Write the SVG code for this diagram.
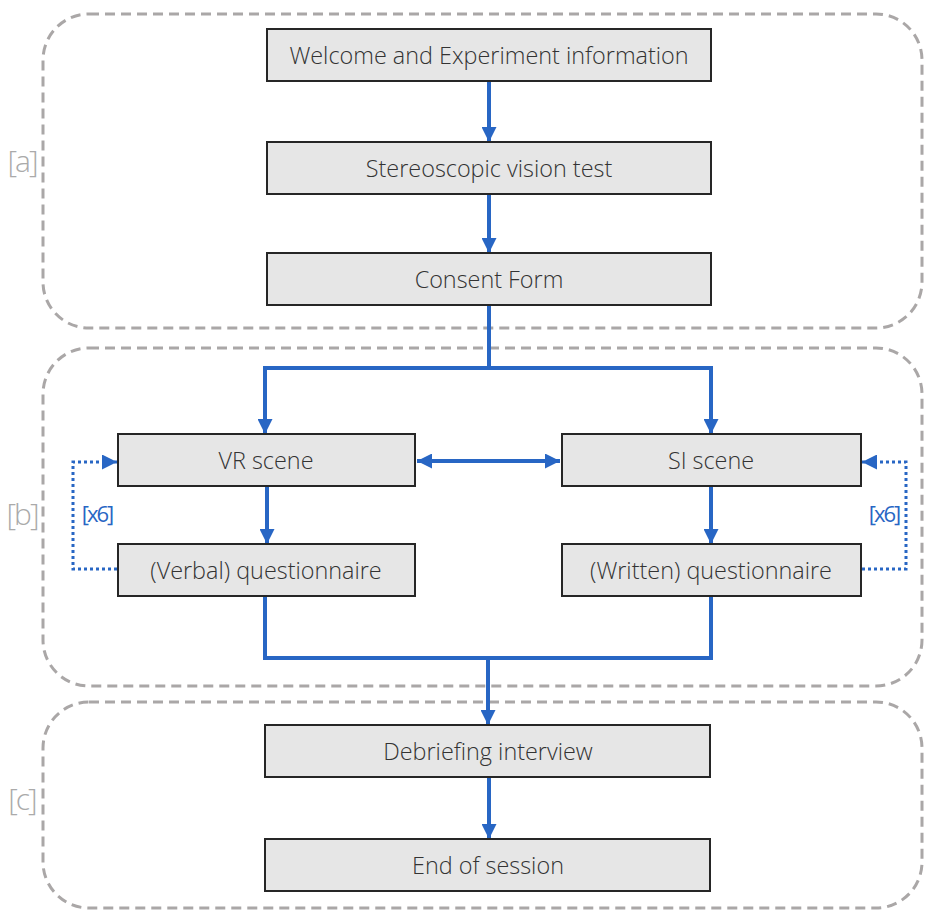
<svg xmlns="http://www.w3.org/2000/svg" width="925" height="919" viewBox="0 0 925 919">
<style>
.box{fill:#e6e6e6;stroke:#262626;stroke-width:2}
.t{font-family:"Open Sans","Noto Sans",sans-serif;font-size:23.4px;fill:#333;text-anchor:middle;dominant-baseline:central;font-weight:300}
.reg{fill:none;stroke:#aaa7a7;stroke-width:3;stroke-dasharray:10 6}
.lab{font-family:"Open Sans","Noto Sans",sans-serif;font-size:30px;fill:#aaa;text-anchor:middle;dominant-baseline:central;font-weight:300;letter-spacing:-2px}
.c{fill:none;stroke:#2866c4;stroke-width:4}
.d{fill:none;stroke:#2866c4;stroke-width:3;stroke-dasharray:3 3}
.x6{font-family:"Open Sans","Noto Sans",sans-serif;font-size:22px;fill:#2866c4;text-anchor:middle;dominant-baseline:central;letter-spacing:-2px}
</style>
<defs>
<marker id="a" viewBox="0 0 10 10" refX="10" refY="5" markerWidth="15" markerHeight="15" markerUnits="userSpaceOnUse" orient="auto-start-reverse">
<path d="M0,0 L10,5 L0,10 z" fill="#2866c4"/>
</marker>
</defs>
<g id="regions">
<rect class="reg" x="43" y="14" width="879" height="314" rx="46"/>
<rect class="reg" x="43" y="348" width="879" height="338" rx="46"/>
<rect class="reg" x="43" y="702" width="879" height="206" rx="46"/>
<text class="lab" x="22" y="160">[a]</text>
<text class="lab" x="22" y="513">[b]</text>
<text class="lab" x="22" y="798">[c]</text>
</g>
<g id="connectors">
<path class="c" d="M489,81 V142" marker-end="url(#a)"/>
<path class="c" d="M489,194 V253" marker-end="url(#a)"/>
<path class="c" d="M489,305 V368 M265,368 H711"/>
<path class="c" d="M265,366 V434" marker-end="url(#a)"/>
<path class="c" d="M711,366 V434" marker-end="url(#a)"/>
<path class="c" d="M417,461 H560" marker-start="url(#a)" marker-end="url(#a)"/>
<path class="c" d="M267,486 V544" marker-end="url(#a)"/>
<path class="c" d="M711,486 V544" marker-end="url(#a)"/>
<path class="c" d="M265,596 V658 H711 V596"/>
<path class="c" d="M488,658 V725" marker-end="url(#a)"/>
<path class="c" d="M489,777 V839" marker-end="url(#a)"/>
<path class="d" d="M117,569 H73 V462 H117" marker-end="url(#a)"/>
<path class="d" d="M862,569 H906 V462 H862" marker-end="url(#a)"/>
<text class="x6" x="97" y="513">[x6]</text>
<text class="x6" x="884" y="513">[x6]</text>
</g>
<g id="n1"><rect class="box" x="267" y="29" width="444" height="52"/><text class="t" x="489" y="55">Welcome and Experiment information</text></g>
<g id="n2"><rect class="box" x="267" y="142" width="444" height="52"/><text class="t" x="489" y="168">Stereoscopic vision test</text></g>
<g id="n3"><rect class="box" x="267" y="253" width="444" height="52"/><text class="t" x="489" y="279">Consent Form</text></g>
<g id="n4"><rect class="box" x="118" y="434" width="297" height="52"/><text class="t" x="266" y="460">VR scene</text></g>
<g id="n5"><rect class="box" x="562" y="434" width="299" height="52"/><text class="t" x="711" y="460">SI scene</text></g>
<g id="n6"><rect class="box" x="118" y="544" width="297" height="52"/><text class="t" x="266" y="570">(Verbal) questionnaire</text></g>
<g id="n7"><rect class="box" x="562" y="544" width="299" height="52"/><text class="t" x="711" y="570">(Written) questionnaire</text></g>
<g id="n8"><rect class="box" x="265" y="725" width="445" height="52"/><text class="t" x="488" y="751">Debriefing interview</text></g>
<g id="n9"><rect class="box" x="265" y="839" width="445" height="52"/><text class="t" x="488" y="865">End of session</text></g>
</svg>
